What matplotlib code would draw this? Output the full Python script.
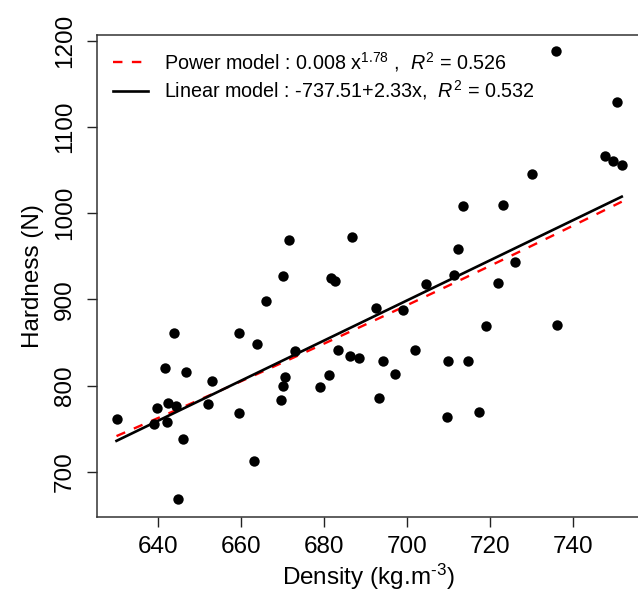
import numpy as np
import matplotlib
matplotlib.use("Agg")
import matplotlib.pyplot as plt

plt.rcParams['font.family'] = ['Liberation Sans', 'DejaVu Sans']
plt.rcParams['mathtext.fontset'] = 'custom'
plt.rcParams['mathtext.rm'] = 'Liberation Sans'
plt.rcParams['mathtext.it'] = 'Liberation Sans:italic'

# density (kg.m-3) and hardness (N)
density = [671.6, 670.2, 666.0, 643.8, 659.5, 663.9, 641.8, 646.7, 652.9, 670.6,
           670.2, 669.6, 630.0, 639.7, 642.3, 644.3, 652.1, 659.5, 639.0, 642.1,
           646.1, 663.1, 644.7, 713.4, 686.7, 712.2, 681.7, 682.7, 711.4, 704.5,
           692.5, 698.9, 673.0, 683.4, 686.3, 688.3, 701.8, 694.1, 709.8, 714.6,
           681.3, 679.0, 697.1, 693.3, 709.6, 717.2, 735.8, 750.5, 747.7, 749.7,
           751.7, 730.0, 723.0, 726.0, 722.0, 719.0, 736.1]
hardness = [969, 927, 898, 861, 861, 848, 821, 816, 806, 810,
            800, 783, 762, 774, 780, 776, 779, 768, 756, 758,
            738, 713, 669, 1008, 972, 958, 925, 921, 928, 918,
            890, 888, 840, 841, 834, 832, 841, 829, 829, 829,
            812, 799, 814, 786, 764, 769, 1188, 1129, 1066, 1061,
            1056, 1046, 1010, 943, 919, 869, 871]

x_ticks = [640, 660, 680, 700, 720, 740]
y_ticks = [700, 800, 900, 1000, 1100, 1200]
power_label = r"Power model : 0.008 x$^{1.78}$ ,  $R^2$ = 0.526"
linear_label = r"Linear model : -737.51+2.33x,  $R^2$ = 0.532"
x_label = "Density (kg.m$^{\u20103}$)"
y_label = "Hardness (N)"

d = np.array(density)
h = np.array(hardness)
order = np.argsort(d)
ds = d[order]

# fits drawn through the sorted observations
b1, b0 = np.polyfit(d, h, 1)
lin_fit = b0 + b1 * ds
pb, pa = np.polyfit(np.log(d), np.log(h), 1)
pow_fit = np.exp(pa) * ds ** pb

W, H = 638, 596
fig = plt.figure(figsize=(W / 100, H / 100), dpi=100)
left, right, top, bottom = 97, 640, 35, 517.3
ax = fig.add_axes([left / W, 1 - bottom / H, (right - left) / W, (bottom - top) / H])

ax.scatter(d, h, s=56, color='black', zorder=3, linewidths=0)
ax.plot(ds, pow_fit, color='#ff0000', lw=1.7, dashes=(4, 4), zorder=2, label=power_label)
ax.plot(ds, lin_fit, color='black', lw=1.9, zorder=2.5, label=linear_label)

ax.set_xlim(625.3, 756.1)
ax.set_ylim(647.5, 1206.6)
ax.set_xticks(x_ticks)
ax.set_yticks(y_ticks)
ax.set_yticklabels([str(v) for v in y_ticks], rotation=90, va='center')
ax.tick_params(direction='out', length=7.2, width=1.0, labelsize=17.5, colors='#222222',
               labelcolor='black')
ax.tick_params(axis='x', pad=6)
ax.tick_params(axis='y', pad=8)
for sp in ax.spines.values():
    sp.set_linewidth(1.1)
    sp.set_color('#333333')

ax.set_xlabel(x_label, fontsize=17.5, labelpad=3)
ax.set_ylabel(y_label, fontsize=17.5, labelpad=7)

leg = ax.legend(loc='upper left', bbox_to_anchor=(0.015, 0.985), frameon=False,
                fontsize=14.2, handlelength=1.75, handletextpad=0.85, labelspacing=0.22,
                borderaxespad=0.0)

fig.savefig("out.png", dpi=100)
